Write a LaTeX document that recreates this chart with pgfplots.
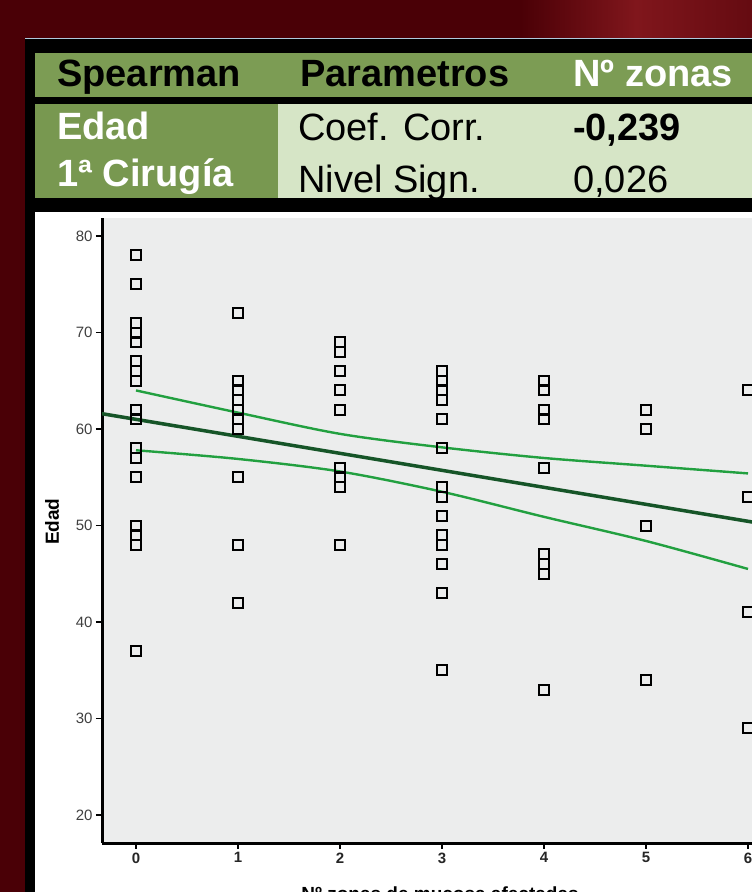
\documentclass[border=0pt]{standalone}
\usepackage{fontspec}
\setmainfont{Liberation Sans}
\usepackage{pgfplots}
\pgfplotsset{compat=1.18}
\definecolor{bgred}{RGB}{74,0,6}
\definecolor{glowred}{RGB}{128,22,28}
\definecolor{hdrgreen}{RGB}{124,156,84}
\definecolor{darkcell}{RGB}{120,152,80}
\definecolor{lightcell}{RGB}{214,229,198}
\definecolor{plotgray}{RGB}{236,237,237}
\definecolor{cigreen}{RGB}{34,160,64}
\definecolor{fitgreen}{RGB}{22,85,40}
\definecolor{panelblue}{RGB}{175,200,220}
\pgfplotstableread{
x y
0 78
0 75
0 71
0 70
0 69
0 67
0 66
0 65
0 62
0 61
0 58
0 57
0 55
0 55
0 50
0 49
0 48
0 37
1 72
1 65
1 64
1 63
1 62
1 61
1 60
1 55
1 48
1 42
2 69
2 68
2 68
2 66
2 64
2 64
2 62
2 62
2 56
2 55
2 54
2 48
3 66
3 65
3 65
3 64
3 63
3 61
3 58
3 54
3 53
3 51
3 49
3 49
3 48
3 46
3 43
3 35
4 65
4 65
4 64
4 62
4 61
4 56
4 47
4 46
4 45
4 33
5 62
5 60
5 50
5 34
6 64
6 53
6 41
6 29
}\pts
\pgfplotstableread{
x up lo
0 64.0 57.8
1 61.7 56.9
2 59.5 55.6
3 58.1 53.5
4 57.0 50.9
5 56.2 48.4
6 55.4 45.5
}\ci
\begin{document}
\begin{tikzpicture}[x=1pt,y=1pt]
\useasboundingbox (0,0) rectangle (752,892);
\clip (0,0) rectangle (752,892);
% background
\fill[bgred] (0,0) rectangle (752,892);
\shade[left color=bgred, right color=bgred!50!glowred, middle color=glowred] (520,850) rectangle (752,892);
% panel
\fill[black] (25,0) rectangle (760,853);
\draw[panelblue, line width=1.5pt] (25,853.5) -- (760,853.5);
\fill[hdrgreen] (35,795) rectangle (760,839);
\fill[darkcell] (35,694) rectangle (278,788);
\fill[lightcell] (278,694) rectangle (760,788);
\fill[white] (35,0) rectangle (760,680);
% table text
\node[anchor=base west, inner sep=0, font=\fontsize{38}{42}\selectfont\bfseries] at (57,805) {Spearman};
\node[anchor=base west, inner sep=0, font=\fontsize{38}{42}\selectfont\bfseries] at (300,805) {Parametros};
\node[anchor=base west, inner sep=0, font=\fontsize{38}{42}\selectfont\bfseries, text=white] at (573,805) {Nº zonas};
\node[anchor=base west, inner sep=0, font=\fontsize{38}{42}\selectfont\bfseries, text=white] at (57,752) {Edad};
\node[anchor=base west, inner sep=0, font=\fontsize{38}{42}\selectfont\bfseries, text=white] at (57,705) {1ª Cirugía};
\node[anchor=base west, inner sep=0, font=\fontsize{38}{42}\selectfont] at (298,751) {Coef. Corr.};
\node[anchor=base west, inner sep=0, font=\fontsize{38}{42}\selectfont] at (298,699) {Nivel Sign.};
\node[anchor=base west, inner sep=0, font=\fontsize{38}{42}\selectfont\bfseries] at (573,751) {-0,239};
\node[anchor=base west, inner sep=0, font=\fontsize{38}{42}\selectfont] at (573,699) {0,026};
\fill[black] (35,680) rectangle (760,694);
% plot
\begin{axis}[
  at={(102pt,49pt)}, anchor=south west,
  scale only axis, width=707.2pt, height=625pt,
  xmin=-0.3333, xmax=6.6, ymin=17.1, ymax=81.87,
  axis x line*=bottom, axis y line*=left,
  axis line style={line width=3pt, black},
  axis background/.style={fill=plotgray},
  xtick={0,1,2,3,4,5,6}, ytick={20,30,40,50,60,70,80},
  tick align=outside, major tick length=6pt,
  tick style={black, line width=1.2pt},
  /pgf/number format/assume math mode=true,
  xticklabel style={font=\fontsize{15}{17}\selectfont\bfseries, text=black!85},
  yticklabel style={font=\fontsize{15}{17}\selectfont, text=black!75},
  xlabel={Nº zonas de mucosa afectadas},
  ylabel={Edad},
  every axis x label/.style={at={(axis description cs:0.478,-0.0700)}, anchor=north, inner sep=0, font=\fontsize{19}{22}\selectfont\bfseries},
  every axis y label/.style={at={(axis description cs:-0.0707,0.514)}, rotate=90, anchor=center, font=\fontsize{19}{22}\selectfont\bfseries},
  clip=true,
]
\addplot[fitgreen, line width=3.5pt] coordinates {(-0.3333,61.59) (6.6,49.38)};
\addplot[cigreen, line width=2.4pt, smooth] table[x=x,y=up] {\ci};
\addplot[cigreen, line width=2.4pt, smooth] table[x=x,y=lo] {\ci};
\addplot[only marks, mark=square, mark size=5pt, mark options={draw=black, line width=2pt, fill=none}] table[x=x,y=y] {\pts};
\end{axis}
\end{tikzpicture}
\end{document}
